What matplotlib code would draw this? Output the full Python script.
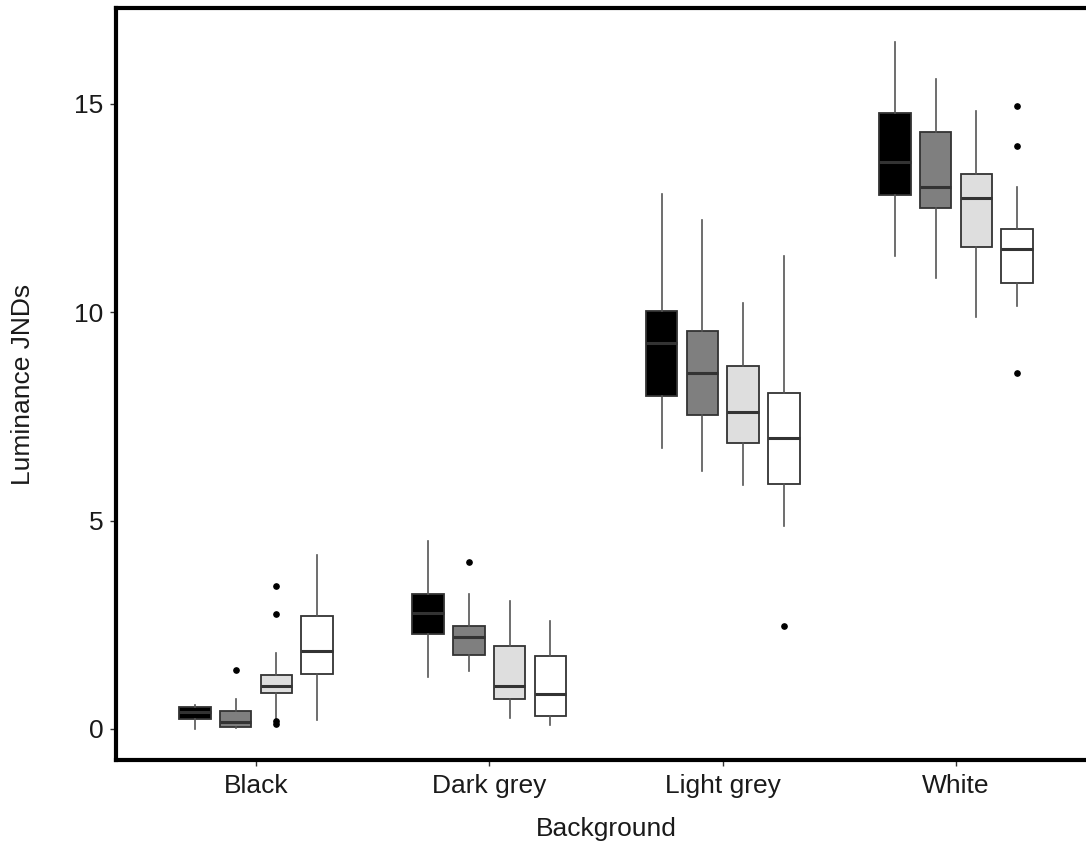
import matplotlib
matplotlib.use("Agg")
import matplotlib.pyplot as plt
import numpy as np

plt.rcParams['font.family'] = ['Liberation Sans', 'DejaVu Sans']

backgrounds = ["Black", "Dark grey", "Light grey", "White"]
series = ["Black", "Dark grey", "Light grey", "White"]
fills = ["#000000", "#7f7f7f", "#dedede", "#ffffff"]

# Box statistics per series (index = background)
whislo = {
    "Black":      [0.01, 1.25, 6.74, 11.36],
    "Dark grey":  [0.02, 1.38, 6.19, 10.82],
    "Light grey": [0.25, 0.27, 5.86, 9.88],
    "White":      [0.22, 0.09, 4.86, 10.15],
}
q1 = {
    "Black":      [0.24, 2.27, 8.00, 12.82],
    "Dark grey":  [0.04, 1.78, 7.53, 12.50],
    "Light grey": [0.87, 0.73, 6.87, 11.57],
    "White":      [1.32, 0.32, 5.87, 10.71],
}
med = {
    "Black":      [0.41, 2.78, 9.26, 13.61],
    "Dark grey":  [0.175, 2.20, 8.54, 13.01],
    "Light grey": [1.04, 1.02, 7.60, 12.73],
    "White":      [1.86, 0.83, 6.98, 11.52],
}
q3 = {
    "Black":      [0.535, 3.24, 10.04, 14.79],
    "Dark grey":  [0.43, 2.48, 9.54, 14.33],
    "Light grey": [1.30, 1.99, 8.70, 13.32],
    "White":      [2.71, 1.74, 8.07, 12.00],
}
whishi = {
    "Black":      [0.58, 4.50, 12.84, 16.49],
    "Dark grey":  [0.72, 3.24, 12.21, 15.60],
    "Light grey": [1.83, 3.06, 10.22, 14.83],
    "White":      [4.18, 2.59, 11.35, 13.01],
}
outliers = {
    "Black":      [[], [], [], []],
    "Dark grey":  [[1.42], [4.01], [], []],
    "Light grey": [[3.42, 2.75, 0.20, 0.13], [], [], []],
    "White":      [[], [], [2.48], [14.94, 14.00, 8.55]],
}

fig = plt.figure(figsize=(10.86, 8.41), dpi=100)
ax = fig.add_axes([116/1086, 1 - 760/841, (1096 - 116)/1086, (760 - 8)/841])

offset = 0.1746
width = 0.135
edge = "#333333"
for j, s in enumerate(series):
    stats = []
    for i in range(len(backgrounds)):
        stats.append(dict(whislo=whislo[s][i], q1=q1[s][i], med=med[s][i],
                          q3=q3[s][i], whishi=whishi[s][i],
                          fliers=outliers[s][i]))
    pos = np.arange(1, len(backgrounds) + 1) + (j - 1.5) * offset
    ax.bxp(stats, positions=pos, widths=width, patch_artist=True,
           showcaps=False, manage_ticks=False,
           boxprops=dict(facecolor=fills[j], edgecolor=edge, linewidth=1.3),
           whiskerprops=dict(color="#555555", linewidth=1.2),
           medianprops=dict(color=edge, linewidth=2.2),
           flierprops=dict(marker='o', markerfacecolor='black',
                           markeredgecolor='black', markersize=3.8,
                           linestyle='none'))

ax.set_xlim(0.4, 4.6)
ax.set_ylim(-0.744, 17.30)
ax.set_xticks(np.arange(1, len(backgrounds) + 1))
ax.set_xticklabels(backgrounds)
ax.set_yticks([0, 5, 10, 15])
ax.set_yticklabels(["0", "5", "10", "15"])

for sp in ax.spines.values():
    sp.set_linewidth(3)
    sp.set_color("black")

ax.tick_params(axis='both', length=4, width=1, color="#333333",
               labelsize=19, labelcolor="#1a1a1a")
ax.tick_params(axis='x', pad=6)
ax.tick_params(axis='y', pad=5)
ax.set_xlabel("Background", fontsize=19, color="#1a1a1a", labelpad=14)
ax.set_ylabel("Luminance JNDs", fontsize=19, color="#1a1a1a", labelpad=28)

fig.savefig("out.png", dpi=100, facecolor="white")
